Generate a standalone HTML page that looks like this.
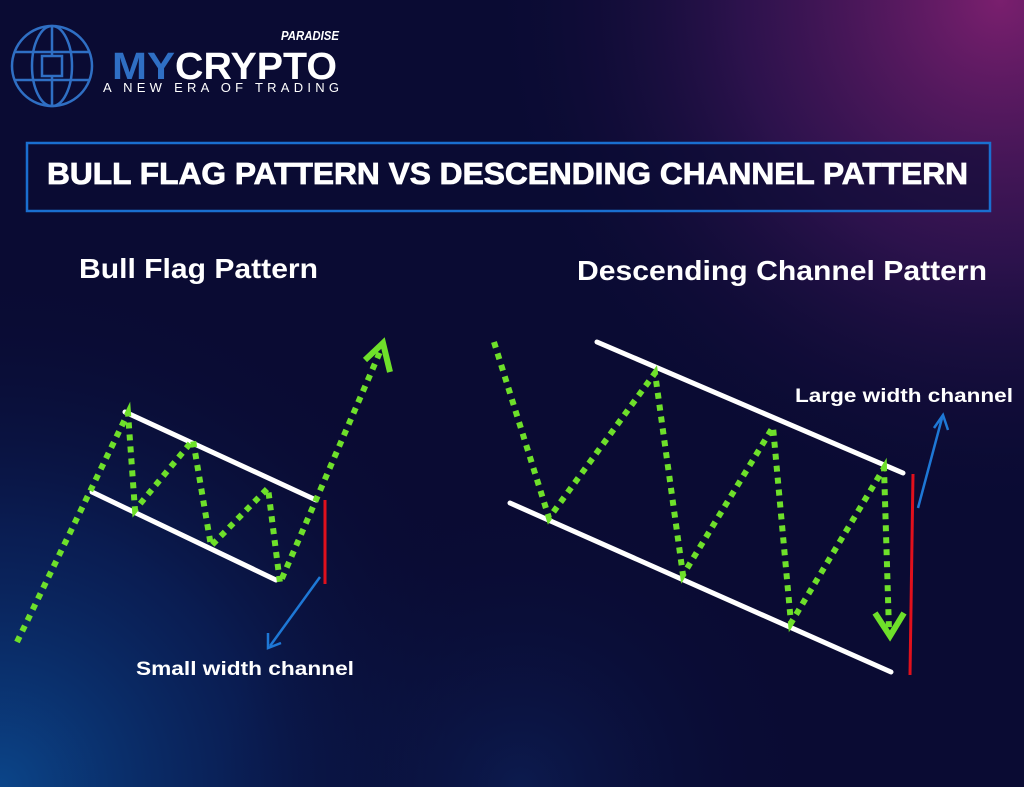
<!DOCTYPE html>
<html><head><meta charset="utf-8"><style>
html,body{margin:0;padding:0;background:#0a0b33}
svg{display:block}
text{font-family:"Liberation Sans",sans-serif;font-weight:bold;fill:#fff}
</style></head><body>
<svg width="1024" height="787" viewBox="0 0 1024 787" xmlns="http://www.w3.org/2000/svg">
<defs>
<radialGradient id="pur" cx="1000" cy="0" r="520" gradientUnits="userSpaceOnUse">
<stop offset="0" stop-color="#7a1f6e"/><stop offset="0.5" stop-color="#3b1557" stop-opacity="0.7"/><stop offset="1" stop-color="#0a0b33" stop-opacity="0"/></radialGradient>
<radialGradient id="blu" cx="0" cy="787" r="520" gradientUnits="userSpaceOnUse">
<stop offset="0" stop-color="#0b4589"/><stop offset="0.5" stop-color="#0a2866" stop-opacity="0.6"/><stop offset="1" stop-color="#0a0b33" stop-opacity="0"/></radialGradient>
<radialGradient id="blu2" cx="520" cy="787" r="300" gradientUnits="userSpaceOnUse">
<stop offset="0" stop-color="#0d2560" stop-opacity="0.6"/><stop offset="1" stop-color="#0a0b33" stop-opacity="0"/></radialGradient>
</defs>
<rect width="1024" height="787" fill="#0a0b33"/>
<rect width="1024" height="787" fill="url(#pur)"/>
<rect width="1024" height="787" fill="url(#blu)"/>
<rect width="1024" height="787" fill="url(#blu2)"/>

<!-- logo -->
<g stroke="#2f6fc4" stroke-width="2.5" fill="none">
<circle cx="52" cy="66" r="40"/>
<ellipse cx="52" cy="66" rx="20" ry="40"/>
<line x1="52" y1="26" x2="52" y2="106"/>
<line x1="14" y1="52" x2="90" y2="52"/><line x1="14" y1="80" x2="90" y2="80"/>
<rect x="42" y="56" width="20" height="20" fill="#0a0b33"/>
</g>
<text x="112" y="79" font-size="38" style="fill:#2f6fc4" textLength="63" lengthAdjust="spacingAndGlyphs">MY</text>
<text x="175" y="79" font-size="38" textLength="162" lengthAdjust="spacingAndGlyphs">CRYPTO</text>
<text x="281" y="40" font-size="13" font-style="italic" textLength="58" lengthAdjust="spacingAndGlyphs">PARADISE</text>
<text x="103" y="92" font-size="13" style="font-weight:normal" textLength="236" lengthAdjust="spacing">A NEW ERA OF TRADING</text>

<!-- title box -->
<rect x="27" y="143" width="963" height="68" fill="#0a0b33" fill-opacity="0.6" stroke="#1a6fd0" stroke-width="2.5"/>
<text x="47" y="184" font-size="31" stroke="#fff" stroke-width="0.8" textLength="921" lengthAdjust="spacingAndGlyphs">BULL FLAG PATTERN VS DESCENDING CHANNEL PATTERN</text>

<text x="79" y="278" font-size="28" textLength="239" lengthAdjust="spacingAndGlyphs">Bull Flag Pattern</text>
<text x="577" y="280" font-size="28" textLength="410" lengthAdjust="spacingAndGlyphs">Descending Channel Pattern</text>

<!-- left chart -->
<g stroke="#ffffff" stroke-width="5" stroke-linecap="round">
<line x1="125" y1="412" x2="316" y2="500"/>
<line x1="92" y1="492" x2="276" y2="580"/>
</g>
<g stroke="#6ee02a" stroke-width="6" stroke-dasharray="6 6" fill="none">
<polyline points="17,642 128,413 135,510 193,440 211,546 268,488 280,583 383,345"/>
</g>
<polyline points="365,360 383,343 390,372" stroke="#6ee02a" stroke-width="6" fill="none"/>
<line x1="325" y1="500" x2="325" y2="584" stroke="#e0101c" stroke-width="3"/>
<line x1="320" y1="577" x2="270" y2="646" stroke="#1e78d6" stroke-width="2.5"/>
<polyline points="268,633 268,648 281,643" stroke="#1e78d6" stroke-width="2.5" fill="none"/>
<text x="136" y="675" font-size="19" textLength="218" lengthAdjust="spacingAndGlyphs">Small width channel</text>

<!-- right chart -->
<g stroke="#ffffff" stroke-width="5" stroke-linecap="round">
<line x1="597" y1="342" x2="903" y2="473"/>
<line x1="510" y1="503" x2="891" y2="672"/>
</g>
<g stroke="#6ee02a" stroke-width="6" stroke-dasharray="6 6" fill="none">
<polyline points="494,342 549,518 655,373 683,575 773,427 791,623 884,468 889,630"/>
</g>
<polyline points="875,613 890,636 904,613" stroke="#6ee02a" stroke-width="6" fill="none"/>
<line x1="913" y1="474" x2="910" y2="675" stroke="#e0101c" stroke-width="3"/>
<line x1="918" y1="508" x2="942" y2="418" stroke="#1e78d6" stroke-width="2.5"/>
<polyline points="934,428 943,415 948,430" stroke="#1e78d6" stroke-width="2.5" fill="none"/>
<text x="795" y="402" font-size="19" textLength="218" lengthAdjust="spacingAndGlyphs">Large width channel</text>
</svg>
</body></html>
